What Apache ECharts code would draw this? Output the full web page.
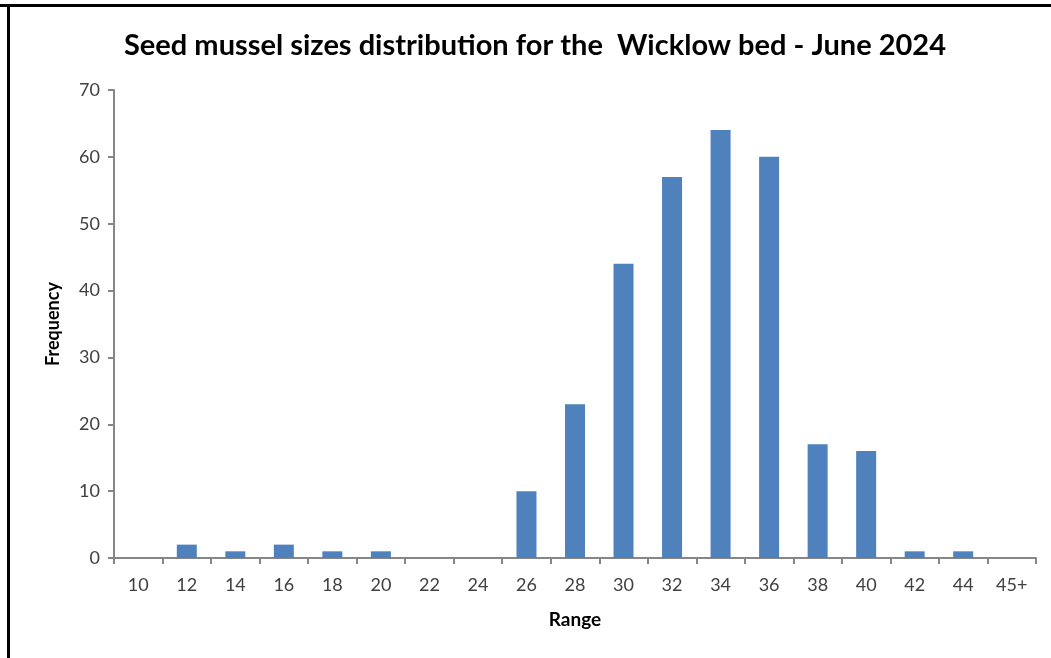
<!DOCTYPE html>
<html>
<head>
<meta charset="utf-8">
<script src="https://cdn.jsdelivr.net/npm/echarts@6/dist/echarts.min.js"></script>
<style>
html,body{margin:0;padding:0;background:#fff;}
#chart{width:1051px;height:658px;}
</style>
</head>
<body>
<div id="chart"></div>
<script>
const categories = ['10','12','14','16','18','20','22','24','26','28','30','32','34','36','38','40','42','44','45+'];
const frequency = [0,2,1,2,1,1,0,0,10,23,44,57,64,60,17,16,1,1,0];
const titleText = 'Seed mussel sizes distribution for the  Wicklow bed - June 2024';

const chart = echarts.init(document.getElementById('chart'), null, {renderer:'canvas'});
const font = 'Lato, "Open Sans", sans-serif';
chart.setOption({
  animation:false,
  backgroundColor:'#fff',
  title:{
    text:titleText,
    left:119, top:26,
    textStyle:{fontFamily:font, fontSize:29, fontWeight:'bold', color:'#000'}
  },
  grid:{left:114, right:15, top:90, bottom:100, containLabel:false},
  xAxis:{
    type:'category',
    data:categories,
    name:'Range',
    nameLocation:'middle',
    nameGap:52,
    nameTextStyle:{fontFamily:font, fontSize:19, fontWeight:'bold', color:'#000'},
    axisLine:{lineStyle:{color:'#868686', width:2}},
    axisTick:{show:true, length:6, alignWithLabel:false, lineStyle:{color:'#868686', width:2}},
    axisLabel:{fontFamily:font, fontSize:18, color:'#404040', margin:18, interval:0},
    splitLine:{show:false}
  },
  yAxis:{
    type:'value',
    min:0, max:70, interval:10,
    name:'Frequency',
    nameLocation:'middle',
    nameGap:52,
    nameTextStyle:{fontFamily:font, fontSize:18, fontWeight:'bold', color:'#000'},
    axisLine:{show:true, lineStyle:{color:'#868686', width:2}},
    axisTick:{show:true, length:6, lineStyle:{color:'#868686', width:2}},
    axisLabel:{fontFamily:font, fontSize:18, color:'#404040', margin:14},
    splitLine:{show:false}
  },
  series:[{
    type:'bar',
    data:frequency,
    barWidth:20,
    itemStyle:{color:'#4F81BD'}
  }],
  graphic:[
    {type:'line', shape:{x1:0, y1:5.5, x2:1051, y2:5.5}, style:{stroke:'#000', lineWidth:3}},
    {type:'line', shape:{x1:8.5, y1:5, x2:8.5, y2:658}, style:{stroke:'#000', lineWidth:3}}
  ]
});
</script>
</body>
</html>
